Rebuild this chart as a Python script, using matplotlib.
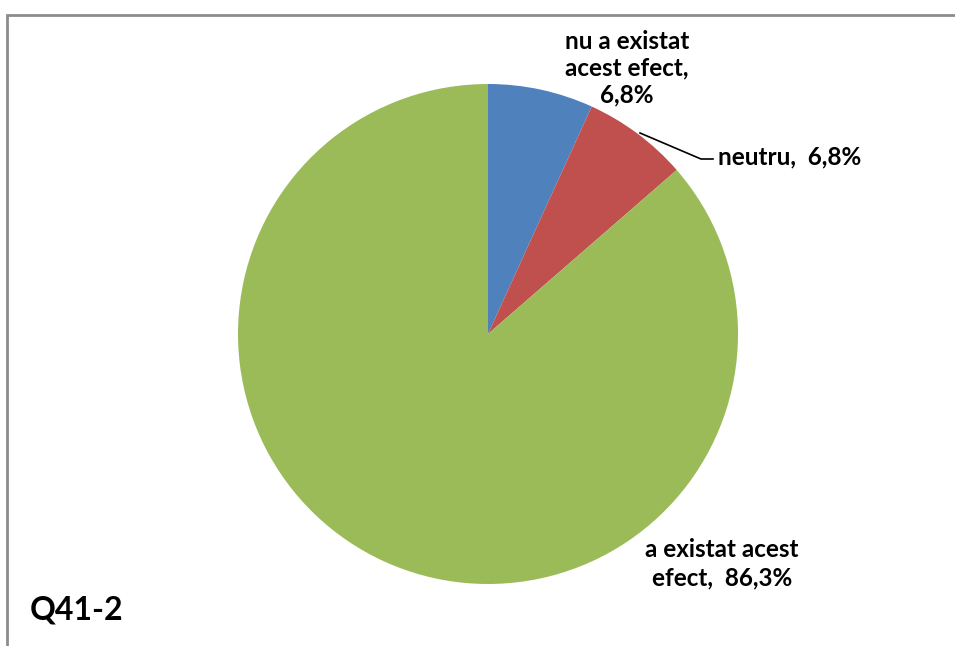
import matplotlib.pyplot as plt
from matplotlib.patches import Rectangle

labels = ['nu a existat\nacest efect,\n6,8%', 'neutru,  6,8%', 'a existat acest\nefect,  86,3%']
values = [6.8, 6.8, 86.3]
colors = ['#4F81BD', '#C0504D', '#9BBB59']

plt.rcParams['font.family'] = ['Lato', 'DejaVu Sans']

fig = plt.figure(figsize=(9.55, 6.46), dpi=100)
ax = fig.add_axes([0, 0, 1, 1])
ax.set_xlim(0, 955)
ax.set_ylim(0, 646)
ax.set_aspect('equal')
ax.axis('off')

# chart frame (cut off at right and bottom like the original)
ax.add_patch(Rectangle((7, -20), 1000, 646 - 15 + 20, fill=False,
                       edgecolor='#8c8c8c', linewidth=2))

ax.pie(values, colors=colors, startangle=90, counterclock=False,
       center=(488, 312), radius=250, wedgeprops={'linewidth': 0})

ax.set_xlim(0, 955)
ax.set_ylim(0, 646)

fs = 17.5
ax.text(627, 646 - 68, labels[0], ha='center', va='center', fontsize=fs,
        fontweight='bold', linespacing=1.2)
ax.text(718, 646 - 157, labels[1], ha='left', va='center', fontsize=fs,
        fontweight='bold')
ax.plot([640, 701, 713], [646 - 133, 646 - 159, 646 - 159], color='black', lw=1.2)
ax.text(722, 646 - 564, labels[2], ha='center', va='center', fontsize=fs,
        fontweight='bold', linespacing=1.3)

ax.text(30, 646 - 610, 'Q41-2', ha='left', va='center', fontsize=23,
        fontweight='bold')

fig.savefig('out.png', dpi=100)
